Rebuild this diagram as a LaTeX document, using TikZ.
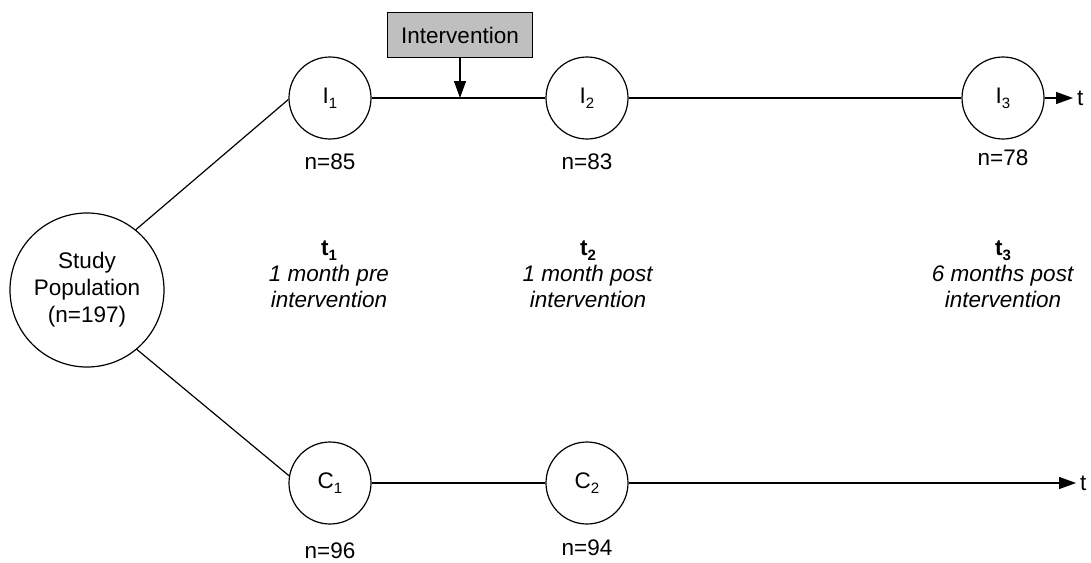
\documentclass[tikz,border=0pt]{standalone}
\usepackage{fontspec}
\setmainfont{Liberation Sans}
\usetikzlibrary{arrows.meta}
% lowered, smaller index used in the stage labels
\newcommand\lowsub[1]{\raisebox{-0.22em}{\fontsize{15}{15}\selectfont #1}}
\begin{document}
\begin{tikzpicture}[x=1pt,y=-1pt,
  every node/.style={font=\fontsize{22.5}{26}\selectfont},
  conn/.style={line width=1.2pt},
  arr/.style={line width=1.2pt,-{Triangle[length=17pt,width=12pt]}},
  stage/.style={circle,draw,line width=1.2pt,minimum size=82pt,inner sep=0pt},
  popnode/.style={circle,draw,line width=1.2pt,minimum size=154pt,inner sep=0pt,align=center,font=\fontsize{22.5}{27}\selectfont},
  interbox/.style={draw,line width=1.2pt,fill=black!25,minimum width=145pt,minimum height=45pt,inner sep=0pt},
  count/.style={inner sep=0pt},
  timelabel/.style={align=center,inner sep=0pt},
  axislabel/.style={anchor=west,inner sep=4pt}
]
\useasboundingbox (0,0) rectangle (1091,562);

% study population and measurement points
\node[popnode] (pop) at (87,290) {Study\\Population\\(n=197)};
\node[stage] (i1) at (330,98) {I\lowsub{1}};
\node[stage] (i2) at (587,98) {I\lowsub{2}};
\node[stage] (i3) at (1003,98) {I\lowsub{3}};
\node[stage] (c1) at (330,483) {C\lowsub{1}};
\node[stage] (c2) at (587,483) {C\lowsub{2}};

% intervention box
\node[interbox] (inter) at (460,35) {Intervention};
\coordinate (hit) at (460,98);

% time axis labels
\node[axislabel] (ti) at (1073,98) {t};
\node[axislabel] (tc) at (1076,483) {t};

% group sizes
\node[count] (n1) at (330,162) {n=85};
\node[count] (n2) at (587,162) {n=83};
\node[count] (n3) at (1003,158) {n=78};
\node[count] (m1) at (330,551) {n=96};
\node[count] (m2) at (587,548) {n=94};

% time points
\node[timelabel] (t1) at (329,274) {\textbf{t\lowsub{1}}\\\textit{1 month pre}\\\textit{intervention}};
\node[timelabel] (t2) at (588,274) {\textbf{t\lowsub{2}}\\\textit{1 month post}\\\textit{intervention}};
\node[timelabel] (t3) at (1003,274) {\textbf{t\lowsub{3}}\\\textit{6 months post}\\\textit{intervention}};

% connectors
\draw[conn] (pop.51) -- (i1.182);
\draw[conn] (pop.-50) -- (c1.170);
\draw[conn] (i1) -- (i2);
\draw[conn] (i2) -- (i3);
\draw[arr] (i3) -- (ti.west);
\draw[conn] (c1) -- (c2);
\draw[arr] (c2) -- (tc.west);
\draw[arr] (inter) -- (hit);
\end{tikzpicture}
\end{document}
